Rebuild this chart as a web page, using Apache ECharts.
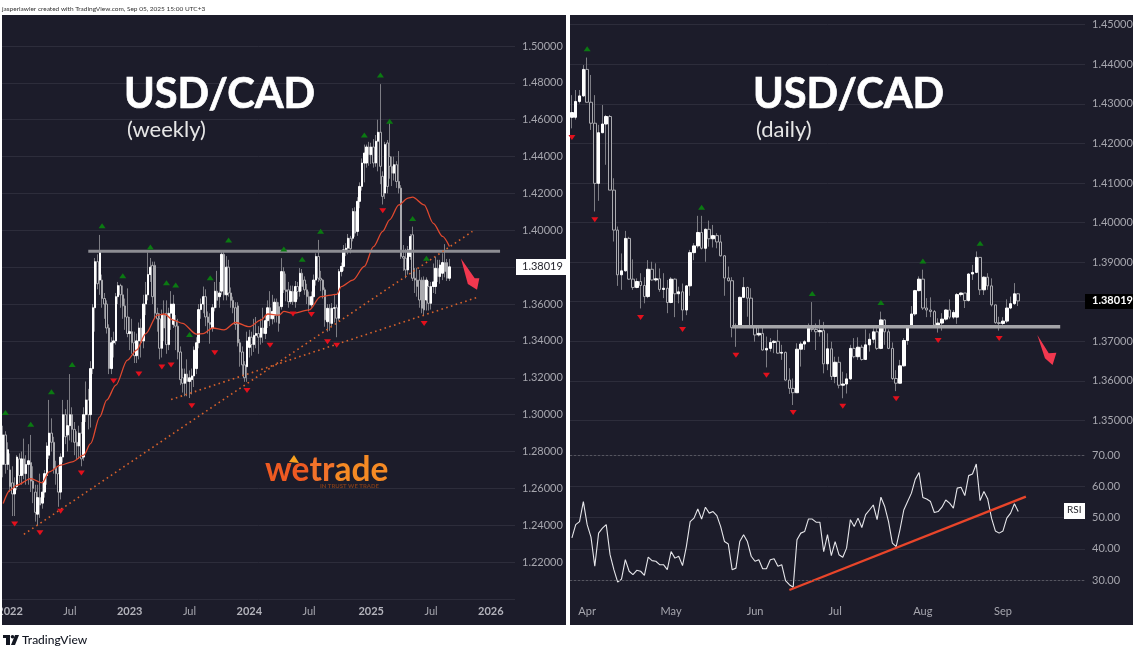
<!DOCTYPE html>
<html>
<head>
<meta charset="utf-8">
<title>USD/CAD</title>
<style>
html,body{margin:0;padding:0;background:#fff}
#chart{width:1133px;height:648px}
</style>
<script src="https://cdn.jsdelivr.net/npm/echarts@6/dist/echarts.min.js"></script>
</head>
<body>
<div id="chart"></div>
<script>
// weekly candles
const weekOpen = [
1.273,1.289,1.273,1.270,1.263,1.257,1.261,1.276,1.267,1.276,
1.268,1.273,1.274,1.264,1.258,1.246,1.255,1.252,1.258,1.267,
1.278,1.290,1.285,1.271,1.268,1.258,1.277,1.300,1.289,1.294,
1.300,1.292,1.285,1.283,1.290,1.277,1.300,1.308,1.300,1.325,
1.358,1.383,1.373,1.373,1.363,1.360,1.347,1.325,1.339,1.340,
1.364,1.370,1.365,1.359,1.353,1.344,1.345,1.339,1.332,1.340,
1.347,1.340,1.360,1.365,1.376,1.381,1.381,1.355,1.352,1.336,
1.354,1.355,1.338,1.355,1.349,1.351,1.348,1.334,1.320,1.317,
1.322,1.318,1.319,1.321,1.325,1.339,1.357,1.360,1.364,1.353,
1.350,1.347,1.358,1.367,1.364,1.367,1.387,1.365,1.380,1.366,
1.362,1.358,1.359,1.339,1.334,1.327,1.326,1.3365,1.342,1.338,
1.343,1.344,1.342,1.347,1.344,1.351,1.358,1.352,1.354,1.361,
1.3586,1.3586,1.3776,1.3677,1.3677,1.3613,1.3668,1.3613,1.3695,1.3668,
1.3767,1.373,1.3677,1.364,1.3595,1.364,1.373,1.3858,1.374,1.373,
1.3677,1.3504,1.3577,1.3495,1.3577,1.358,1.3523,1.3776,1.3804,1.3894,
1.3903,1.3957,1.3957,1.4102,1.3994,1.4157,1.4238,1.4365,1.4365,1.4452,
1.441,1.4452,1.4365,1.4483,1.4532,1.4293,1.4202,1.4474,1.44,1.4347,
1.431,1.4356,1.4265,1.4229,1.3858,1.3849,1.3785,1.3858,1.3976,1.374,
1.373,1.373,1.373,1.373,1.3622,1.3695,1.3604,1.3695,1.3695,1.3794,
1.3749,1.3767,1.3825,1.3825,1.374]
const weekClose = [
1.289,1.273,1.281,1.261,1.257,1.260,1.277,1.267,1.276,1.268,
1.273,1.275,1.264,1.260,1.247,1.255,1.251,1.258,1.268,1.283,
1.290,1.285,1.271,1.268,1.258,1.277,1.300,1.288,1.294,1.300,
1.292,1.285,1.283,1.290,1.276,1.300,1.308,1.300,1.325,1.358,
1.383,1.371,1.388,1.363,1.360,1.347,1.325,1.339,1.340,1.364,
1.370,1.365,1.359,1.353,1.344,1.345,1.339,1.332,1.340,1.347,
1.339,1.360,1.365,1.376,1.380,1.364,1.355,1.352,1.336,1.354,
1.347,1.338,1.355,1.360,1.360,1.348,1.334,1.319,1.317,1.322,
1.318,1.320,1.321,1.335,1.339,1.357,1.360,1.364,1.353,1.350,
1.349,1.358,1.367,1.362,1.366,1.387,1.365,1.380,1.366,1.362,
1.358,1.349,1.339,1.334,1.327,1.320,1.340,1.342,1.338,1.343,
1.344,1.342,1.347,1.344,1.351,1.358,1.352,1.356,1.361,1.354,
1.3495,1.3776,1.3677,1.3668,1.3613,1.3668,1.3613,1.3695,1.3668,1.3767,
1.3695,1.3677,1.364,1.3595,1.364,1.373,1.3858,1.374,1.373,1.3677,
1.3514,1.3577,1.3495,1.3577,1.358,1.3523,1.3776,1.3804,1.3894,1.3903,
1.3957,1.390,1.4102,1.3985,1.4157,1.4238,1.4365,1.4419,1.4452,1.441,
1.4452,1.4365,1.4483,1.4532,1.4347,1.4184,1.4465,1.4238,1.4347,1.431,
1.4356,1.4265,1.4229,1.3858,1.3849,1.3785,1.3894,1.3967,1.374,1.373,
1.3695,1.3622,1.3577,1.3568,1.373,1.3604,1.3695,1.372,1.3794,1.3749,
1.3812,1.3825,1.3776,1.374,1.38019]
const weekLow = [
1.266,1.268,1.270,1.258,1.245,1.245,1.259,1.263,1.262,1.265,
1.262,1.262,1.258,1.252,1.242,1.240,1.244,1.249,1.255,1.262,
1.276,1.280,1.268,1.262,1.250,1.254,1.274,1.284,1.280,1.286,
1.285,1.278,1.276,1.276,1.272,1.275,1.296,1.292,1.293,1.322,
1.345,1.368,1.365,1.358,1.352,1.344,1.322,1.322,1.331,1.338,
1.360,1.358,1.352,1.346,1.342,1.335,1.333,1.328,1.328,1.330,
1.331,1.336,1.354,1.362,1.372,1.360,1.352,1.345,1.330,1.331,
1.340,1.333,1.335,1.346,1.347,1.335,1.330,1.316,1.312,1.310,
1.310,1.309,1.311,1.315,1.322,1.336,1.352,1.355,1.348,1.344,
1.3385,1.345,1.356,1.358,1.358,1.365,1.362,1.362,1.364,1.358,
1.355,1.346,1.337,1.326,1.321,1.3178,1.3178,1.331,1.332,1.334,
1.336,1.333,1.338,1.339,1.341,1.347,1.348,1.349,1.350,1.350,
1.345,1.357,1.366,1.3615,1.358,1.360,1.3595,1.358,1.3625,1.364,
1.367,1.365,1.360,1.356,1.358,1.3595,1.370,1.372,1.367,1.363,
1.3477,1.345,1.3455,1.3478,1.350,1.342,1.351,1.375,1.378,1.386,
1.387,1.3875,1.394,1.3965,1.397,1.412,1.4215,1.426,1.434,1.435,
1.436,1.434,1.4345,1.432,1.425,1.414,1.417,1.42,1.428,1.424,
1.427,1.423,1.42,1.3845,1.378,1.374,1.376,1.384,1.3725,1.366,
1.364,1.358,1.355,1.3535,1.3565,1.3565,1.357,1.366,1.3655,1.372,
1.371,1.373,1.3745,1.3725,1.3725]
const weekHigh = [
1.294,1.291,1.285,1.279,1.272,1.266,1.278,1.279,1.280,1.287,
1.278,1.284,1.289,1.272,1.262,1.262,1.268,1.264,1.270,1.285,
1.308,1.298,1.288,1.275,1.272,1.279,1.308,1.303,1.308,1.322,
1.304,1.296,1.291,1.294,1.296,1.304,1.318,1.314,1.329,1.360,
1.385,1.387,1.3975,1.376,1.366,1.362,1.349,1.342,1.345,1.366,
1.372,1.371,1.370,1.363,1.3685,1.353,1.352,1.345,1.344,1.350,
1.352,1.365,1.372,1.388,1.385,1.383,1.383,1.358,1.355,1.357,
1.362,1.362,1.358,1.367,1.365,1.354,1.352,1.337,1.325,1.325,
1.330,1.324,1.325,1.337,1.342,1.360,1.363,1.3695,1.368,1.356,
1.355,1.360,1.372,1.378,1.372,1.389,1.389,1.386,1.384,1.369,
1.364,1.361,1.361,1.341,1.337,1.329,1.345,1.346,1.345,1.352,
1.353,1.348,1.352,1.358,1.354,1.362,1.367,1.365,1.363,1.363,
1.361,1.3849,1.380,1.3765,1.372,1.370,1.370,1.3725,1.372,1.3795,
1.379,1.375,1.371,1.3668,1.3668,1.376,1.3875,1.3948,1.378,1.3735,
1.369,1.360,1.360,1.3605,1.3655,1.3597,1.379,1.3825,1.392,1.393,
1.398,1.397,1.412,1.4125,1.418,1.426,1.439,1.4465,1.4465,1.448,
1.4475,1.4495,1.4517,1.460,1.4793,1.432,1.448,1.449,1.4585,1.44,
1.44,1.4375,1.443,1.4245,1.392,1.39,1.3915,1.398,1.402,1.3795,
1.3795,1.3785,1.3745,1.375,1.3745,1.3725,1.372,1.382,1.3855,1.384,
1.384,1.3875,1.3925,1.3845,1.3845]

// weekly moving average, read every few weeks
const maWeek = [0,3,6,12,17,20,25,30,35,38,42,45,49,54,58,62,67,70,74,78,84,87,91,96,101,107,112,115,120,122,126,133,138,145,147,152,157,161,165,168,172,176,178,183,187,191,194]
const maValue = [1.2518,1.259,1.2618,1.2653,1.263,1.269,1.2726,1.2744,1.278,1.2843,1.2988,1.3079,1.316,1.3296,1.335,1.344,1.354,1.3546,1.3513,1.3495,1.3437,1.344,1.347,1.346,1.350,1.3477,1.3513,1.3546,1.354,1.356,1.355,1.3568,1.364,1.3653,1.3695,1.373,1.3804,1.3912,1.3994,1.4057,1.4138,1.4175,1.418,1.4138,1.4038,1.3967,1.3912]

const weekUpAt = [1,12,21,30,43,52,64,71,75,81,90,98,122,130,138,157,164,168,178,184]
const weekUpVal = [1.3012,1.2948,1.3124,1.3272,1.4025,1.3754,1.391,1.3716,1.3703,1.3435,1.3743,1.3948,1.3898,1.3843,1.3995,1.4517,1.4842,1.4592,1.4064,1.3849]
const weekDownAt = [5,16,25,34,48,59,69,73,82,92,106,116,126,134,141,145,165,183]
const weekDownVal = [1.2407,1.236,1.2476,1.2684,1.3182,1.322,1.3258,1.327,1.3048,1.3336,1.3131,1.3377,1.3546,1.3543,1.3396,1.3376,1.4106,1.3495]

const weekTickAt = [3,29,55,81,107,133,160,186,212]
const weekTickText = ['2022','Jul','2023','Jul','2024','Jul','2025','Jul','2026']

// daily candles
const dayOpen = [
1.4266,1.4266,1.4306,1.432,1.4387,1.4304,1.4251,1.4099,1.4227,1.4249,
1.4268,1.4082,1.3981,1.3868,1.3878,1.396,1.3857,1.3836,1.3851,1.3841,
1.3813,1.3882,1.3855,1.3858,1.3831,1.3834,1.3798,1.3857,1.382,1.3825,
1.3779,1.384,1.3924,1.3941,1.3975,1.3935,1.3983,1.3959,1.3967,1.3951,
1.3916,1.386,1.3853,1.3735,1.3739,1.3811,1.3836,1.3809,1.3737,1.3716,
1.372,1.3678,1.3682,1.3697,1.37,1.367,1.3672,1.3602,1.3581,1.357,
1.368,1.3693,1.3699,1.3733,1.373,1.3724,1.3727,1.3643,1.3681,1.3611,
1.3647,1.3589,1.3592,1.3605,1.3682,1.3661,1.3685,1.3654,1.3691,1.3705,
1.3724,1.3682,1.3754,1.3724,1.3682,1.3606,1.3594,1.3638,1.3702,1.3739,
1.3769,1.3828,1.3857,1.3784,1.3779,1.3775,1.3741,1.3746,1.3756,1.3779,
1.3761,1.3761,1.3818,1.3822,1.3803,1.387,1.3874,1.3912,1.383,1.3862,
1.384,1.3792,1.3747,1.3745,1.3751,1.3784,1.3795,1.382]
const dayClose = [
1.4278,1.4306,1.432,1.4387,1.4304,1.4251,1.4099,1.4227,1.4249,1.4268,
1.4082,1.3981,1.3868,1.3878,1.396,1.3857,1.3836,1.3851,1.3841,1.3813,
1.3882,1.3855,1.3858,1.3831,1.3834,1.3798,1.3857,1.382,1.3825,1.3779,
1.384,1.3924,1.3941,1.3975,1.3935,1.3983,1.3959,1.3967,1.3951,1.3916,
1.386,1.3853,1.3735,1.3739,1.3811,1.3836,1.3809,1.3737,1.3716,1.372,
1.3678,1.3682,1.3697,1.37,1.367,1.3672,1.3602,1.3581,1.357,1.368,
1.3693,1.3699,1.3733,1.373,1.3724,1.3727,1.3643,1.3681,1.3611,1.3647,
1.3589,1.3592,1.3605,1.3682,1.3661,1.3685,1.3654,1.3691,1.3705,1.3724,
1.3682,1.3754,1.3724,1.3682,1.3606,1.3594,1.3638,1.3702,1.3739,1.3769,
1.3828,1.3857,1.3784,1.3779,1.3775,1.3741,1.3746,1.3756,1.3779,1.3761,
1.3773,1.3818,1.3822,1.3803,1.387,1.3874,1.3912,1.383,1.3862,1.384,
1.3792,1.3747,1.3745,1.3751,1.3784,1.3795,1.382,1.38019]
const dayLow = [
1.4238,1.426,1.4301,1.4318,1.4303,1.4234,1.4028,1.4055,1.4226,1.4146,
1.4082,1.3952,1.384,1.383,1.3876,1.3855,1.383,1.3834,1.3783,1.3796,
1.3809,1.3853,1.3851,1.3825,1.3809,1.3771,1.3796,1.3761,1.3796,1.3752,
1.3766,1.3815,1.3905,1.3935,1.3932,1.3901,1.3939,1.3937,1.3935,1.3914,
1.3815,1.3851,1.371,1.3686,1.3737,1.3809,1.3762,1.3735,1.3699,1.3712,
1.3676,1.3634,1.3674,1.367,1.3668,1.3653,1.36,1.3567,1.3539,1.357,
1.3636,1.3678,1.3699,1.3724,1.3678,1.3712,1.3619,1.3627,1.3602,1.3594,
1.3581,1.3556,1.3568,1.3602,1.3657,1.3653,1.3651,1.3653,1.3674,1.3695,
1.3678,1.368,1.3691,1.368,1.3602,1.3574,1.3594,1.3636,1.3691,1.3735,
1.3764,1.3826,1.3779,1.3761,1.3761,1.3737,1.3722,1.3727,1.3752,1.3756,
1.3756,1.3744,1.3813,1.3784,1.38,1.3855,1.3872,1.3817,1.3817,1.383,
1.3788,1.3744,1.3727,1.3741,1.3746,1.3781,1.3792,1.3789]
const dayHigh = [
1.4322,1.4335,1.4335,1.4398,1.4417,1.4373,1.4322,1.4247,1.4297,1.4272,
1.4272,1.4112,1.399,1.3922,1.3979,1.3964,1.3907,1.3859,1.3872,1.3862,
1.3905,1.3901,1.3897,1.3884,1.3872,1.3855,1.3862,1.3859,1.3838,1.3846,
1.3842,1.3931,1.3948,1.4017,1.4017,1.3985,1.4005,1.3994,1.3973,1.3969,
1.3918,1.3889,1.3862,1.3745,1.3813,1.3862,1.3838,1.3834,1.3741,1.3737,
1.3735,1.3712,1.3708,1.3703,1.3729,1.3691,1.3674,1.3632,1.3606,1.3695,
1.3699,1.3703,1.3745,1.3799,1.3745,1.3755,1.3749,1.372,1.3699,1.3661,
1.3661,1.3623,1.3619,1.3691,1.3708,1.371,1.3691,1.373,1.372,1.3733,
1.3733,1.3775,1.3756,1.373,1.3697,1.3627,1.3653,1.3708,1.3741,1.3789,
1.383,1.3864,1.3881,1.3809,1.3811,1.3779,1.3758,1.3771,1.3781,1.3806,
1.3779,1.3822,1.3823,1.3822,1.3872,1.3893,1.3927,1.3912,1.3864,1.3872,
1.3859,1.3792,1.3762,1.3761,1.3806,1.3813,1.3847,1.3822]

const dayUpAt = [4,34,63,81,92,107]
const dayUpVal = [1.4439,1.4039,1.3821,1.3798,1.3903,1.3948]
const dayDownAt = [0,6,18,29,43,51,58,71,85,96,112]
const dayDownVal = [1.4215,1.4007,1.376,1.373,1.3665,1.3614,1.352,1.3536,1.3555,1.3702,1.3707]

const rsiValues = [
43.5,47.7,48.7,55.1,47.7,43.7,34.4,45,46.6,47.7,
38.1,33.3,29.3,30.3,36.5,32.8,31.7,33.1,32.8,31.5,
37.3,36.2,36,34.9,34.9,33.3,39.1,37,37.6,34.6,
40.7,48.7,49.8,52.7,49.5,53.3,51.4,51.9,50.6,47.1,
42.3,41.5,33.3,33.8,42.3,44.5,42.3,37.6,36,36.5,
33.6,33.6,36.5,36.8,34.4,34.9,29.8,28.5,27.7,42.9,
45,45.5,49.5,49.5,48.5,48.5,39.1,44.5,37.8,42.3,
38.1,37.3,40.2,49.3,47.1,49.8,46.8,50.9,52.4,54,
49.3,56.5,53.5,48.7,41.8,40.7,46.1,52.4,55.1,57.8,
62.2,64.4,56.4,55.9,55.1,51.6,51.9,53.3,55.6,54.6,
53,59.4,59.7,57,63.4,63.9,67.1,55.4,58.3,55.9,
49.8,45.7,45,45.7,49.8,51.4,54.4,51.9]

const dayTickAt = [4,26,48,69,92,113]
const dayTickText = ['Apr','May','Jun','Jul','Aug','Sep']

// drawn lines: [x, price]
const weekResistance = [[37,1.3887],[216,1.3887]]
const weekTrendUpper = [[9,1.2351],[204,1.3994]]
const weekTrendLower = [[73,1.3082],[207,1.364]]
const daySupport = [[42,1.3737],[128,1.3737]]
const rsiTrend = [[57,26.8],[119,56.7]]
const weekArrow = [[198.9,1.3847],[204.7,1.374],[206.6,1.374],[206.3,1.3677],[201.5,1.3709]]
const dayArrow = [[122,1.3716],[124.9,1.367],[126.6,1.3671],[126.4,1.364],[123.6,1.3657]]

const WEEK_SLOTS = 223
const DAY_SLOTS = 135
const BG = '#1c1c2a'
const GRIDLINE = '#2d2d3b'
const LABEL = '#a6a6ae'
const FONT = 'Lato, "Noto Sans", sans-serif'

function slots(n){
	return Array.from({length:n},(_,i)=>String(i))
}
// wick layer has the full range, body layer only open/close
function wicks(o,c,l,h){
	return o.map((v,i)=>[v,c[i],l[i],h[i]])
}
function bodies(o,c){
	return o.map((v,i)=>[v,c[i],Math.min(v,c[i]),Math.max(v,c[i])])
}
function pairs(a,b){
	return a.map((v,i)=>[v,b[i]])
}
function tickAxis(gridIndex,n,at,text,show,bold){
	return {
		type:'category',gridIndex,data:slots(n),boundaryGap:true,
		axisLine:{show:false},axisTick:{show:false},splitLine:{show:false},
		axisLabel:{
			show,margin:12,verticalAlign:'middle',color:LABEL,fontFamily:FONT,fontSize:11,
			interval:(i)=>at.includes(i),
			formatter:(v,i)=>{
				const t = text[at.indexOf(Number(v))]
				return bold && /^\d/.test(t) ? '{y|'+t+'}' : t
			},
			rich:{y:{fontWeight:'bold',color:'#b4b4bc',fontSize:11,fontFamily:FONT}}
		}
	}
}
function priceAxis(gridIndex,min,max,step,digits,margin){
	return {
		type:'value',gridIndex,position:'right',min,max,interval:step,scale:true,
		axisLine:{show:false},axisTick:{show:false},
		splitLine:{show:true,showMinLine:digits==5&&min==1.2,showMaxLine:false,lineStyle:{color:GRIDLINE,width:1}},
		axisLabel:{
			margin,color:LABEL,fontFamily:FONT,fontSize:11,showMinLabel:false,showMaxLabel:false,
			formatter:(v)=>v.toFixed(digits)
		}
	}
}
function candles(x,y,o,c,l,h,width){
	return [{
		type:'candlestick',xAxisIndex:x,yAxisIndex:y,barWidth:1,data:wicks(o,c,l,h),z:2,
		itemStyle:{color:'#7d7d84',color0:'#7d7d84',borderColor:'#7d7d84',borderColor0:'#7d7d84',borderWidth:1}
	},{
		type:'candlestick',xAxisIndex:x,yAxisIndex:y,barWidth:width,data:bodies(o,c),z:3,
		itemStyle:{color:'#ffffff',color0:BG,borderColor:'#ffffff',borderColor0:'#a9a9ae',borderWidth:1}
	}]
}
function markers(x,y,at,val,color,rotate){
	return {
		type:'scatter',xAxisIndex:x,yAxisIndex:y,data:pairs(at,val),z:5,
		symbol:'triangle',symbolSize:[7,5],symbolRotate:rotate,itemStyle:{color,opacity:1}
	}
}
function drawn(x,y,data,color,width,type,z){
	return {
		type:'line',xAxisIndex:x,yAxisIndex:y,data,showSymbol:false,symbol:'none',z,
		lineStyle:{color,width,type,opacity:1},silent:true
	}
}
function arrow(x,y,points){
	return {
		type:'custom',xAxisIndex:x,yAxisIndex:y,data:[[points[0][0],points[0][1]]],z:6,clip:false,silent:true,
		renderItem:(params,api)=>({
			type:'polygon',
			shape:{points:points.map(p=>api.coord(p))},
			style:{fill:'#f2384f'}
		})
	}
}

const series = [
	...candles(0,0,weekOpen,weekClose,weekLow,weekHigh,2),
	{type:'line',xAxisIndex:0,yAxisIndex:0,data:pairs(maWeek,maValue),smooth:0.3,smoothMonotone:'x',symbol:'none',z:4,lineStyle:{color:'#e0492f',width:1.3}},
	drawn(0,0,weekResistance,'#8d8d93',3,'solid',4),
	drawn(0,0,weekTrendUpper,'#d9622b',1.6,[1.6,3.4],4),
	drawn(0,0,weekTrendLower,'#d9622b',1.6,[1.6,3.4],4),
	markers(0,0,weekUpAt,weekUpVal,'#0b7a12',0),
	markers(0,0,weekDownAt,weekDownVal,'#e3101c',180),
	arrow(0,0,weekArrow),

	...candles(1,1,dayOpen,dayClose,dayLow,dayHigh,3),
	drawn(1,1,daySupport,'#a4a4a8',3.5,'solid',4),
	markers(1,1,dayUpAt,dayUpVal,'#0b7a12',0),
	markers(1,1,dayDownAt,dayDownVal,'#e3101c',180),
	arrow(1,1,dayArrow),

	{
		type:'line',xAxisIndex:2,yAxisIndex:2,data:rsiValues,symbol:'none',z:3,lineStyle:{color:'#e6e6ea',width:1.1},
		markLine:{
			silent:true,symbol:'none',label:{show:false},
			lineStyle:{color:'#55555f',type:[2,2],width:1},
			data:[{yAxis:70},{yAxis:30}]
		}
	},
	drawn(2,2,rsiTrend,'#e8452a',2.4,'solid',4)
]

const graphic = [
	{type:'rect',z:-5,shape:{x:2,y:15,width:564,height:610},style:{fill:BG}},
	{type:'rect',z:-5,shape:{x:570,y:15,width:563,height:610},style:{fill:BG}},
	{type:'rect',z:50,shape:{x:0,y:15,width:2,height:610},style:{fill:'#ffffff'}},
	{type:'text',z:60,x:2,y:5,style:{text:'jasperlawler created with TradingView.com, Sep 05, 2025 15:00 UTC+3',font:'6.5px '+FONT,fill:'#333'}},

	{type:'text',z:60,x:124,y:74,style:{text:'USD/CAD',font:'bold 41.5px '+FONT,fill:'#ffffff',stroke:'#ffffff',lineWidth:0.7}},
	{type:'text',z:60,x:127,y:119,style:{text:'(weekly)',font:'22px '+FONT,fill:'#e6e6e6'}},
	{type:'text',z:60,x:753,y:74,style:{text:'USD/CAD',font:'bold 41.5px '+FONT,fill:'#ffffff',stroke:'#ffffff',lineWidth:0.7}},
	{type:'text',z:60,x:756,y:119,style:{text:'(daily)',font:'22px '+FONT,fill:'#e6e6e6'}},

	// wetrade logo
	{type:'text',z:60,x:265,y:453,style:{
		text:'{a|we}{b|tr}{c|ade}',
		rich:{
			a:{font:'bold 33.5px '+FONT,fill:'#ee5a22'},
			b:{font:'bold 33.5px '+FONT,fill:'#f2722a'},
			c:{font:'bold 33.5px '+FONT,fill:'#f58a24'}
		}
	}},
	{type:'polygon',z:61,shape:{points:[[294,455],[299,463],[289,462]]},style:{fill:'#f7a11f'}},
	{type:'text',z:60,x:320,y:483,style:{text:'IN TRUST WE TRADE',font:'bold 6px '+FONT,fill:'#7c3c1b'}},

	// last price tags
	{type:'rect',z:60,shape:{x:516,y:259,width:50,height:16},style:{fill:'#ffffff'}},
	{type:'text',z:61,x:522,y:261,style:{text:'1.38019',font:'11px '+FONT,fill:'#26262e'}},
	{type:'rect',z:60,shape:{x:1085,y:294,width:48,height:15},style:{fill:'#000000'}},
	{type:'text',z:61,x:1092,y:295,style:{text:'1.38019',font:'bold 11px '+FONT,fill:'#ffffff'}},
	{type:'rect',z:60,shape:{x:1064,y:503,width:21,height:16},style:{fill:'#ffffff'}},
	{type:'text',z:61,x:1067,y:505,style:{text:'RSI',font:'10px '+FONT,fill:'#26262e'}},

	// tradingview logo
	{type:'polygon',z:60,shape:{points:[[3,635],[10,635],[10,645],[6,645],[6,638],[3,638]]},style:{fill:'#131722'}},
	{type:'circle',z:60,shape:{cx:12.5,cy:636.8,r:1.8},style:{fill:'#131722'}},
	{type:'polygon',z:60,shape:{points:[[15,635],[19,635],[15,645],[11,645]]},style:{fill:'#131722'}},
	{type:'text',z:60,x:22,y:634,style:{text:'TradingView',font:'500 12px '+FONT,fill:'#131722'}}
]

const option = {
	animation:false,
	backgroundColor:'#ffffff',
	tooltip:{show:false},
	legend:{show:false},
	graphic,
	grid:[
		{left:2,top:15,width:513,height:584,outerBoundsMode:'none'},
		{left:570,top:15,width:515,height:445,outerBoundsMode:'none'},
		{left:570,top:445,width:515,height:166.25,outerBoundsMode:'none'}
	],
	xAxis:[
		tickAxis(0,WEEK_SLOTS,weekTickAt,weekTickText,true,true),
		tickAxis(1,DAY_SLOTS,dayTickAt,dayTickText,false,false),
		tickAxis(2,DAY_SLOTS,dayTickAt,dayTickText,true,false)
	],
	yAxis:[
		priceAxis(0,1.2,1.5168,0.02,5,7),
		priceAxis(1,1.34,1.45245,0.01,5,7),
		priceAxis(2,20,73.2,10,2,7)
	],
	series
}
option.xAxis[2].axisLabel.margin = 0

const chart = echarts.init(document.getElementById('chart'))
chart.setOption(option)
window.addEventListener('resize',function(){
	chart.resize()
})
</script>
</body>
</html>
